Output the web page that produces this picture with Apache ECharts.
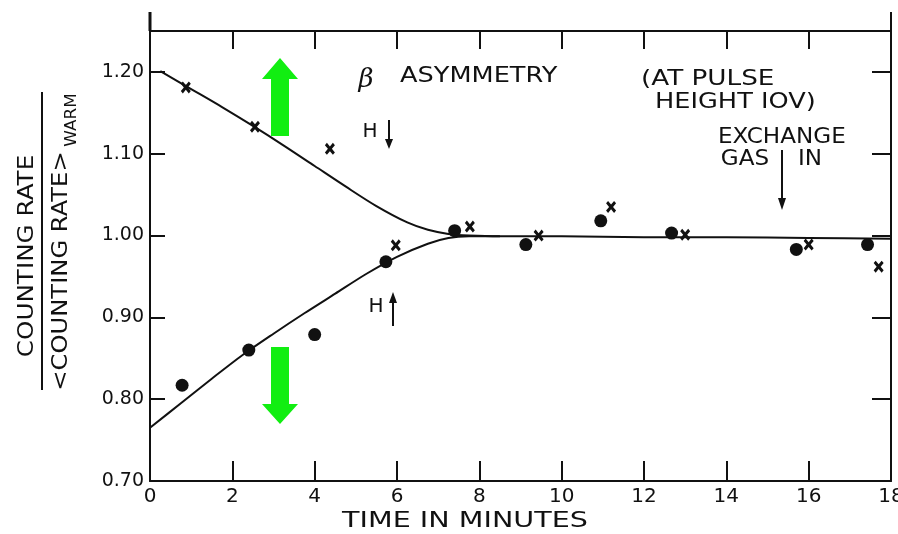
<!DOCTYPE html>
<html>
<head>
<meta charset="utf-8">
<script src="https://cdn.jsdelivr.net/npm/echarts@6/dist/echarts.min.js"></script>
<style>
  html, body { margin: 0; padding: 0; background: #fff; }
  #main { width: 898px; height: 534px; }
</style>
</head>
<body>
<div id="main"></div>
<script>
// x = H down points, dots = H up points
var crossX = [0.87, 2.55, 4.37, 5.97, 7.77, 9.44, 11.2, 13.0, 16.0, 17.7];
var crossY = [1.181, 1.133, 1.106, 0.988, 1.011, 1.000, 1.035, 1.001, 0.989, 0.962];
var dotX = [0.78, 2.40, 4.00, 5.73, 7.40, 9.13, 10.95, 12.67, 15.70, 17.43];
var dotY = [0.817, 0.860, 0.879, 0.968, 1.006, 0.989, 1.018, 1.003, 0.983, 0.989];

// drawn curves
var upperX = [0.25, 1.0, 1.75, 2.5, 3.25, 4.0, 4.75, 5.5, 6.25, 6.75, 7.25, 7.75, 8.5, 10, 12, 14, 16, 18];
var upperY = [1.201, 1.179, 1.157, 1.134, 1.110, 1.085, 1.060, 1.036, 1.016, 1.007, 1.002, 1.000, 0.999, 0.999, 0.998, 0.998, 0.997, 0.996];
var lowerX = [0, 0.75, 1.5, 2.25, 3.0, 3.75, 4.5, 5.25, 6.0, 6.75, 7.25, 7.75, 8.5];
var lowerY = [0.765, 0.795, 0.825, 0.854, 0.880, 0.905, 0.929, 0.953, 0.974, 0.990, 0.997, 0.999, 0.999];

function zip(a, b) {
  return a.map(function (v, i) { return [v, b[i]]; });
}

var font = 'DejaVu Sans';
var ink = '#111';
var crossPath = 'path://M0,2L2,0L5,3L8,0L10,2L7,5L10,8L8,10L5,7L2,10L0,8L3,5Z';

function txt(s, x, y, size, opts) {
  opts = opts || {};
  return {
    type: 'text', x: x, y: y,
    rotation: opts.rot || 0,
    scaleX: opts.sx || 1,
    style: {
      text: s, fill: ink, fontFamily: opts.family || font, fontSize: size,
      fontStyle: opts.italic ? 'italic' : 'normal',
      align: opts.align || 'left', verticalAlign: 'middle'
    }
  };
}
function seg(x1, y1, x2, y2, w) {
  return { type: 'line', shape: { x1: x1, y1: y1, x2: x2, y2: y2 }, style: { stroke: ink, lineWidth: w || 2 } };
}
function poly(pts, color) {
  return { type: 'polygon', shape: { points: pts }, style: { fill: color || ink } };
}

function frameAxis(extra) {
  var base = {
    type: 'value',
    axisLine: { show: true, onZero: false, lineStyle: { color: ink, width: 2 } },
    axisTick: { show: true, inside: true, lineStyle: { color: ink, width: 2 } },
    splitLine: { show: false }
  };
  return echarts.util.merge(base, extra, true);
}

var chart = echarts.init(document.getElementById('main'));
chart.setOption({
  backgroundColor: '#fff',
  animation: false,
  grid: { left: 150, right: 7, top: 31, bottom: 53, containLabel: false, outerBoundsMode: 'none' },
  xAxis: [
    frameAxis({
      min: 0, max: 18, interval: 2, position: 'bottom',
      axisTick: { length: 20 },
      axisLabel: { color: ink, fontFamily: font, fontSize: 20, margin: 6 }
    }),
    frameAxis({
      min: 0, max: 18, interval: 2, position: 'top',
      axisTick: { length: 18 },
      axisLabel: { show: false }
    })
  ],
  yAxis: [
    frameAxis({
      min: 0.7, max: 1.25, interval: 0.1, position: 'left',
      axisTick: { length: 15 },
      axisLabel: {
        color: ink, fontFamily: font, fontSize: 19, margin: 6,
        formatter: function (v) { return Math.abs(v - 1.25) < 1e-6 ? '' : v.toFixed(2); }
      }
    }),
    frameAxis({
      min: 0.7, max: 1.25, interval: 0.1, position: 'right',
      axisTick: { length: 19 },
      axisLabel: { show: false }
    })
  ],
  series: [{
    type: 'line', data: zip(upperX, upperY), smooth: 0.3, symbol: 'none',
    lineStyle: { color: ink, width: 2 }, z: 2
  }, {
    type: 'line', data: zip(lowerX, lowerY), smooth: 0.3, symbol: 'none',
    lineStyle: { color: ink, width: 2 }, z: 2
  }, {
    type: 'scatter', data: zip(crossX, crossY), symbol: crossPath, symbolSize: [10, 12],
    itemStyle: { color: ink, opacity: 1 }, z: 3
  }, {
    type: 'scatter', data: zip(dotX, dotY), symbol: 'circle', symbolSize: 13,
    itemStyle: { color: ink, opacity: 1 }, z: 3
  }],
  graphic: [
    // frame lines sticking out above the box
    seg(150, 12, 150, 31, 3),
    seg(891, 12, 891, 31, 2),
    // title and notes
    txt('\u03b2', 366, 80, 26, { italic: true, align: 'center', family: 'DejaVu Serif' }),
    txt('ASYMMETRY', 400, 77, 21, { sx: 1.22 }),
    txt('(AT PULSE', 641, 80, 21, { sx: 1.25 }),
    txt('HEIGHT IOV)', 655, 103, 21, { sx: 1.22 }),
    txt('EXCHANGE', 718, 138, 21, { sx: 1.1 }),
    txt('GAS', 745, 160, 21, { align: 'center', sx: 1.1 }),
    txt('IN', 810, 160, 21, { align: 'center', sx: 1.1 }),
    seg(782, 150, 782, 200, 2),
    poly([[778, 198], [786, 198], [782, 210]]),
    txt('H', 370, 132, 20, { align: 'center' }),
    seg(389, 120, 389, 140, 2),
    poly([[385, 139], [393, 139], [389, 149]]),
    txt('H', 376, 307, 20, { align: 'center' }),
    seg(393, 302, 393, 326, 2),
    poly([[389, 303], [397, 303], [393, 292]]),
    // green arrows
    poly([[280, 58], [298, 79], [289, 79], [289, 136], [271, 136], [271, 79], [262, 79]], '#11ee11'),
    poly([[271, 347], [289, 347], [289, 404], [298, 404], [280, 424], [262, 404], [271, 404]], '#11ee11'),
    // axis titles
    txt('TIME IN MINUTES', 465, 521, 22, { align: 'center', sx: 1.3 }),
    txt('COUNTING RATE', 27, 256, 22, { align: 'center', rot: Math.PI / 2, sx: 1.12 }),
    seg(42, 92, 42, 390, 2),
    txt('<COUNTING RATE>', 61, 271, 22, { align: 'center', rot: Math.PI / 2, sx: 1.1 }),
    txt('WARM', 72, 120, 15, { align: 'center', rot: Math.PI / 2, sx: 1.12 })
  ]
});
</script>
</body>
</html>
